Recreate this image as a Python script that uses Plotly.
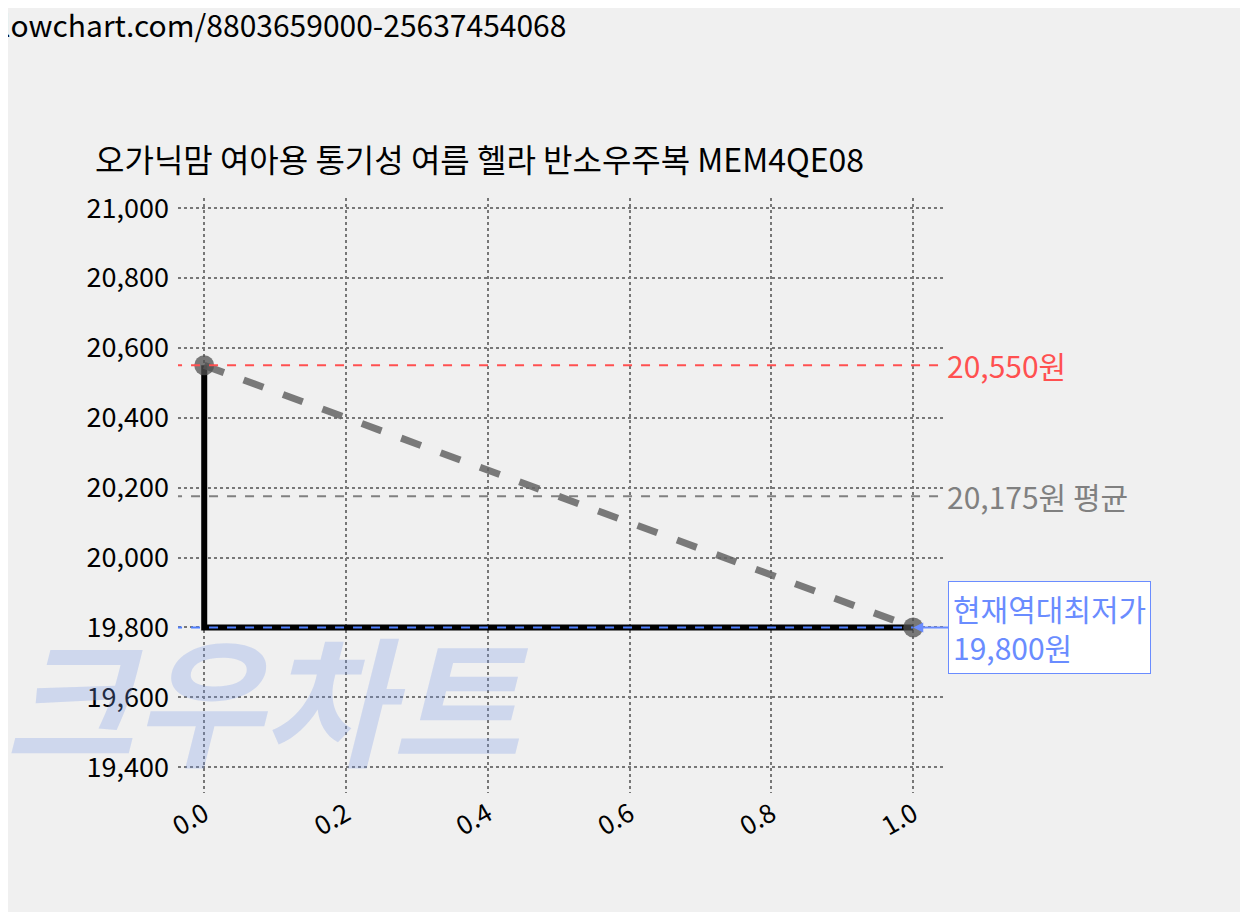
import plotly.graph_objects as go

x_pts = [0.0, 1.0]
prices = [20550, 19800]
step_x = [0.0, 0.0, 1.0]
step_y = [20550, 19800, 19800]
max_price = 20550
avg_price = 20175
min_price = 19800
title = "오가닉맘 여아용 통기성 여름 헬라 반소우주복 MEM4QE08"
source = "lowchart.com/8803659000-25637454068"
xticks = [0.0, 0.2, 0.4, 0.6, 0.8, 1.0]
yticks = [19400, 19600, 19800, 20000, 20200, 20400, 20600, 20800, 21000]

F = "Noto Sans CJK KR"
fig = go.Figure()
fig.add_trace(go.Scatter(x=step_x, y=step_y, mode="lines", line=dict(color="black", width=6), hoverinfo="skip"))
fig.add_trace(go.Scatter(x=x_pts, y=prices, mode="lines+markers", line=dict(color="rgba(100,100,100,0.85)", width=7, dash="dash"),
                         marker=dict(size=20, color="rgba(80,80,80,0.75)")))
xr = [-0.037, 1.042]
fig.add_shape(type="line", xref="x", yref="y", x0=-0.044, x1=1.042, y0=max_price, y1=max_price, line=dict(color="#ff5050", width=2, dash="dash"))
fig.add_shape(type="line", xref="x", yref="y", x0=-0.044, x1=1.042, y0=avg_price, y1=avg_price, line=dict(color="#808080", width=2, dash="dash"))
fig.add_shape(type="line", xref="x", yref="y", x0=-0.044, x1=1.0, y0=min_price, y1=min_price, line=dict(color="#5080ff", width=2, dash="dash"))
ann = [
    dict(x=0.0, y=0.0, xref="paper", yref="paper", text="<b><i>크우차트</i></b>", showarrow=False, xanchor="left", yanchor="bottom",
         xshift=-175, yshift=-5, font=dict(size=140, color="rgba(120,150,230,0.28)", family=F)),
    dict(x=1.0, y=max_price, xref="paper", yref="y", text=f"{max_price:,}원", showarrow=False, xanchor="left", xshift=2, font=dict(size=30, color="#ff5050", family=F)),
    dict(x=1.0, y=avg_price, xref="paper", yref="y", text=f"{avg_price:,}원 평균", showarrow=False, xanchor="left", xshift=2, font=dict(size=30, color="#808080", family=F)),
    dict(x=1.0, y=min_price, xref="x", yref="y", ax=35, ay=0, text=f"현재역대최저가<br>{min_price:,}원", showarrow=True, arrowhead=2, arrowcolor="#6a8cff", arrowwidth=2,
         xanchor="left", align="left", bgcolor="white", bordercolor="#6a8cff", borderwidth=1, borderpad=4, font=dict(size=30, color="#6a8cff", family=F)),
    dict(x=0, y=1, xref="paper", yref="paper", text=source, showarrow=False, xanchor="left", yanchor="top", xshift=-178, yshift=198, font=dict(size=30, color="black", family=F)),
    dict(x=0, y=1, xref="paper", yref="paper", text=title, showarrow=False, xanchor="left", yanchor="bottom", xshift=-85, yshift=15, font=dict(size=32, color="black", family=F)),
]
fig.update_layout(width=1248, height=912, margin=dict(l=170, r=313, t=190, b=127), paper_bgcolor="#f0f0f0", plot_bgcolor="#f0f0f0",
                  showlegend=False, annotations=ann, font=dict(family=F))
fig.update_xaxes(range=xr, tickvals=xticks, ticktext=[f"{v:.1f}" for v in xticks], tickangle=-30, showgrid=True, griddash="dot", gridcolor="#777", gridwidth=2,
                 zeroline=False, tickfont=dict(size=26, color="black"), showline=False, ticks="")
fig.update_yaxes(range=[19326, 21029], tickvals=yticks, ticktext=[f"{v:,}" for v in yticks], showgrid=True, griddash="dot", gridcolor="#777", gridwidth=2,
                 zeroline=False, tickfont=dict(size=27, color="black"), ticks="", ticklabelstandoff=8)
fig.write_html("out.html")
